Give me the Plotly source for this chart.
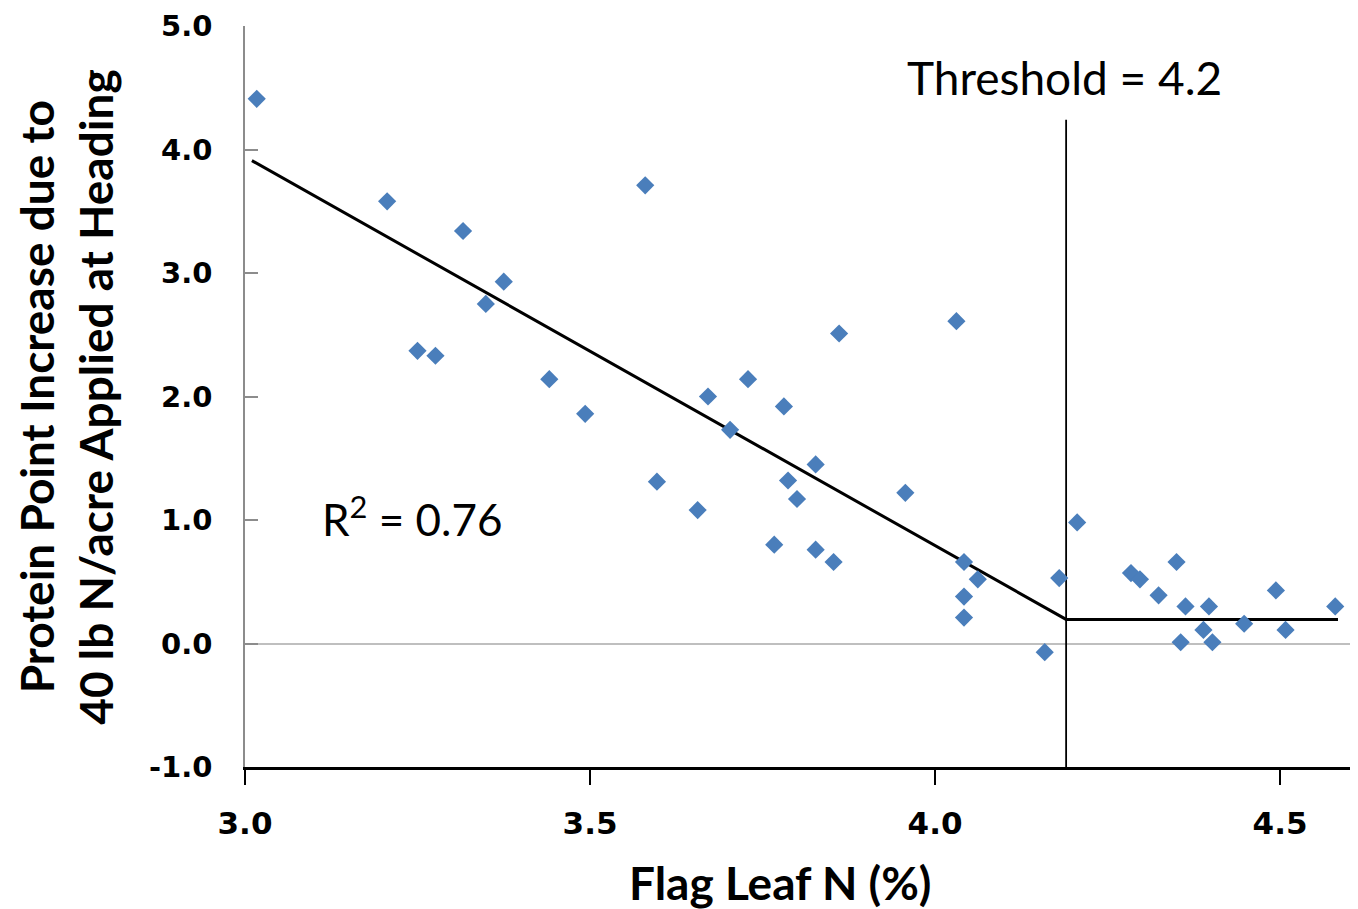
import plotly.graph_objects as go

# Data
flag_leaf_n = [3.017, 3.206, 3.316, 3.580, 3.375, 3.349, 3.250, 3.276, 3.441, 3.493,
               3.597, 3.861, 4.031, 3.729, 3.671, 3.781, 3.703, 3.827, 3.787, 3.800,
               3.957, 3.656, 3.767, 3.827, 3.853, 4.042, 4.062, 4.042, 4.042, 4.206,
               4.180, 4.159, 4.284, 4.297, 4.350, 4.324, 4.363, 4.397, 4.389, 4.356,
               4.402, 4.448, 4.494, 4.508, 4.580]
protein_increase = [4.41, 3.58, 3.34, 3.71, 2.93, 2.75, 2.37, 2.33, 2.14, 1.86,
                    1.31, 2.51, 2.61, 2.14, 2.00, 1.92, 1.73, 1.45, 1.32, 1.17,
                    1.22, 1.08, 0.80, 0.76, 0.66, 0.66, 0.52, 0.38, 0.21, 0.98,
                    0.53, -0.07, 0.57, 0.52, 0.66, 0.39, 0.30, 0.30, 0.11, 0.01,
                    0.01, 0.16, 0.43, 0.11, 0.30]

fit_x = [3.010, 4.19, 4.584]
fit_y = [3.91, 0.195, 0.195]

threshold_x = [4.19, 4.19]
threshold_y = [-1.0, 4.24]

x_ticks = [3.0, 3.5, 4.0, 4.5]
x_tick_labels = ["3.0", "3.5", "4.0", "4.5"]
y_ticks = [-1.0, 0.0, 1.0, 2.0, 3.0, 4.0, 5.0]
y_tick_labels = ["-1.0", "0.0", "1.0", "2.0", "3.0", "4.0", "5.0"]

fig = go.Figure()

fig.add_trace(go.Scatter(
    x=threshold_x, y=threshold_y, mode="lines",
    line=dict(color="black", width=1.8), hoverinfo="skip", showlegend=False))

fig.add_trace(go.Scatter(
    x=fit_x, y=fit_y, mode="lines",
    line=dict(color="black", width=3), hoverinfo="skip", showlegend=False))

fig.add_trace(go.Scatter(
    x=flag_leaf_n, y=protein_increase, mode="markers",
    marker=dict(symbol="diamond", size=14, color="#4A7EBB", line=dict(width=0)),
    showlegend=False))

fig.update_xaxes(
    range=[3.0, 4.613], tickvals=x_ticks, ticktext=x_tick_labels,
    showline=True, linecolor="black", linewidth=2.5,
    ticks="outside", ticklen=15, tickwidth=1.5, tickcolor="black",
    showgrid=False, zeroline=False,
    tickfont=dict(family="DejaVu Sans", size=31, color="black", weight="bold"),
    ticklabelstandoff=12)

fig.update_yaxes(
    range=[-1.0, 5.0], tickvals=y_ticks, ticktext=y_tick_labels,
    showline=True, linecolor="#8C8C8C", linewidth=1.5,
    ticks="inside", ticklen=13, tickwidth=1.5, tickcolor="#8C8C8C",
    showgrid=False, zeroline=True, zerolinecolor="#BFBFBF", zerolinewidth=1.5,
    tickfont=dict(family="DejaVu Sans", size=29, color="black", weight="bold"),
    ticklabelstandoff=25)

annotations = [
    dict(text="<b>Flag Leaf N (%)</b>", xref="paper", yref="paper",
         x=0.4806, y=-0.156, xanchor="center", yanchor="middle",
         showarrow=False, font=dict(family="Lato", size=46, color="black")),
    dict(text="<b>Protein Point Increase due to</b>", xref="paper", yref="paper",
         x=-0.187, y=0.5, xanchor="center", yanchor="middle", textangle=-90,
         showarrow=False, font=dict(family="Lato", size=46, color="black")),
    dict(text="<b>40 lb N/acre Applied at Heading</b>", xref="paper", yref="paper",
         x=-0.1345, y=0.5, xanchor="center", yanchor="middle", textangle=-90,
         showarrow=False, font=dict(family="Lato", size=46, color="black")),
    dict(text="Threshold = 4.2", xref="x", yref="y", x=4.188, y=4.586,
         xanchor="center", yanchor="middle", showarrow=False,
         font=dict(family="Lato", size=46, color="black")),
    dict(text="R<sup>2</sup> = 0.76", xref="x", yref="y", x=3.242, y=1.032,
         xanchor="center", yanchor="middle", showarrow=False,
         font=dict(family="Lato", size=44, color="black")),
]

# The page body adds an 8 px offset; size the figure so it fits the window.
fig.update_layout(
    width=1350, height=901,
    margin=dict(l=237, r=0, t=18, b=142),
    paper_bgcolor="white", plot_bgcolor="white",
    annotations=annotations, showlegend=False)

fig.write_html("out.html")
